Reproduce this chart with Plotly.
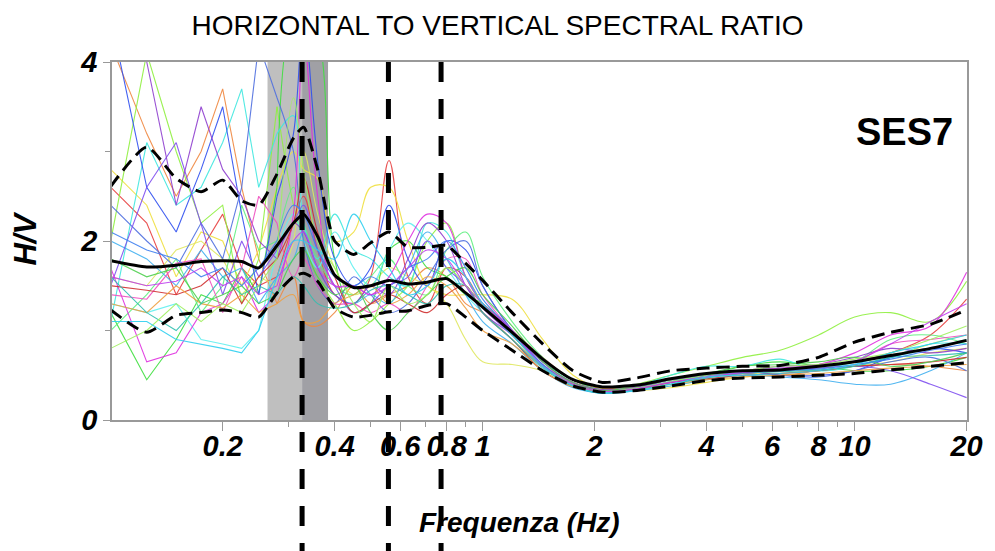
import math
import plotly.graph_objects as go

# ---------------- data ----------------
freq = [0.10, 0.125, 0.15, 0.175, 0.20, 0.225, 0.25, 0.28, 0.31,
        0.33, 0.36, 0.40,
        0.45, 0.50, 0.56, 0.63, 0.71, 0.80, 0.90,
        1.0, 1.2, 1.45, 1.75, 2.1,
        2.6, 3.2, 4.0, 5.0, 6.3, 8.0, 10.0, 12.5, 16.0, 20.0]

hv01 = [2.6, 2.2, 1.4, 1.9, 2.3, 1.7, 1.5, 1.6, 2.2, 2.5, 1.9, 1.4, 1.3, 1.6, 2.9, 1.6, 1.3, 1.7, 1.6, 1.3, 1.0, 0.7, 0.45, 0.35, 0.38, 0.45, 0.5, 0.55, 0.55, 0.6, 0.65, 0.75, 0.95, 1.35]
hv02 = [4.2, 3.2, 2.5, 3.0, 3.7, 2.6, 1.8, 1.3, 1.6, 1.1, 1.05, 1.2, 1.5, 1.3, 1.4, 1.5, 1.7, 1.6, 1.3, 1.2, 0.9, 0.6, 0.42, 0.35, 0.37, 0.42, 0.48, 0.52, 0.5, 0.55, 0.6, 0.62, 0.6, 0.55]
hv03 = [2.8, 2.4, 1.6, 2.1, 2.0, 1.5, 1.9, 2.6, 3.0, 2.8, 2.7, 2.0, 2.1, 2.6, 2.6, 2.0, 1.5, 1.4, 1.4, 1.4, 1.35, 0.9, 0.5, 0.35, 0.33, 0.36, 0.42, 0.48, 0.52, 0.55, 0.6, 0.7, 0.85, 0.95]
hv04 = [1.6, 1.5, 1.9, 2.0, 1.8, 1.4, 1.6, 1.5, 2.0, 3.0, 2.3, 1.7, 1.4, 1.5, 1.7, 1.6, 1.5, 1.3, 0.9, 0.65, 0.62, 0.55, 0.4, 0.33, 0.35, 0.38, 0.45, 0.5, 0.55, 0.55, 0.6, 0.65, 0.75, 0.8]
hv05 = [2.0, 4.1, 3.0, 2.2, 2.4, 1.3, 1.8, 3.5, 2.4, 2.0, 1.6, 1.3, 1.0, 1.1, 1.3, 1.5, 2.0, 2.2, 1.6, 1.3, 1.0, 0.6, 0.4, 0.32, 0.4, 0.5, 0.6, 0.7, 0.78, 0.95, 1.15, 1.2, 1.1, 1.55]
hv06 = [1.2, 0.45, 0.9, 1.4, 1.3, 1.7, 1.4, 2.6, 4.5, 4.5, 4.3, 1.8, 1.2, 1.3, 1.9, 2.0, 1.7, 1.6, 1.4, 1.3, 1.0, 0.65, 0.45, 0.33, 0.35, 0.42, 0.5, 0.6, 0.65, 0.6, 0.55, 0.55, 0.6, 0.7]
hv07 = [1.0, 1.4, 1.8, 1.2, 1.5, 2.4, 1.9, 2.0, 2.6, 2.2, 1.8, 1.5, 1.4, 1.6, 1.8, 1.5, 1.4, 1.9, 2.1, 1.6, 1.1, 0.7, 0.45, 0.34, 0.38, 0.45, 0.5, 0.52, 0.55, 0.58, 0.65, 0.9, 0.95, 0.85]
hv08 = [1.1, 3.1, 2.4, 2.6, 3.1, 3.7, 2.6, 3.2, 3.4, 2.2, 1.8, 2.3, 1.9, 1.8, 1.6, 1.5, 2.2, 2.1, 1.6, 1.3, 0.95, 0.6, 0.38, 0.3, 0.38, 0.5, 0.6, 0.6, 0.68, 0.55, 0.6, 0.7, 0.85, 0.85]
hv09 = [1.3, 1.2, 1.3, 0.9, 0.85, 0.8, 1.0, 1.9, 2.3, 2.0, 1.7, 2.1, 1.7, 1.5, 1.9, 2.2, 2.0, 1.7, 1.4, 1.2, 0.9, 0.55, 0.38, 0.3, 0.35, 0.42, 0.5, 0.55, 0.58, 0.6, 0.62, 0.7, 0.8, 0.9]
hv10 = [2.0, 1.8, 1.5, 1.9, 1.6, 1.7, 1.3, 1.6, 1.8, 2.1, 1.7, 1.4, 1.3, 1.4, 1.3, 1.7, 2.1, 1.8, 1.4, 1.1, 0.85, 0.55, 0.36, 0.3, 0.33, 0.38, 0.45, 0.5, 0.48, 0.45, 0.4, 0.4, 0.55, 0.75]
hv11 = [4.5, 2.6, 2.1, 2.8, 3.5, 2.3, 1.4, 2.5, 3.2, 4.5, 2.9, 1.8, 1.5, 1.7, 2.4, 1.8, 1.5, 2.0, 1.9, 1.5, 1.0, 0.65, 0.42, 0.33, 0.37, 0.45, 0.5, 0.55, 0.5, 0.5, 0.55, 0.7, 0.8, 0.75]
hv12 = [2.4, 2.0, 1.7, 2.2, 1.8, 2.6, 4.2, 3.6, 3.0, 2.0, 1.5, 1.3, 1.6, 1.4, 1.2, 1.3, 1.6, 1.9, 2.0, 1.5, 1.0, 0.6, 0.4, 0.3, 0.36, 0.45, 0.52, 0.55, 0.5, 0.48, 0.55, 0.65, 0.7, 0.55]
hv13 = [1.5, 2.6, 3.1, 2.2, 1.4, 2.0, 1.6, 1.9, 2.2, 2.4, 1.9, 1.5, 1.2, 1.3, 1.5, 1.6, 2.0, 1.7, 1.5, 1.2, 0.95, 0.6, 0.4, 0.32, 0.36, 0.42, 0.48, 0.52, 0.55, 0.58, 0.6, 0.55, 0.4, 0.25]
hv14 = [4.5, 4.0, 2.4, 3.5, 2.8, 2.5, 2.0, 1.8, 2.2, 2.1, 1.7, 1.4, 1.3, 1.5, 1.4, 1.8, 2.2, 2.0, 1.5, 1.25, 0.95, 0.6, 0.42, 0.34, 0.37, 0.45, 0.5, 0.55, 0.6, 0.62, 0.7, 0.8, 0.75, 0.8]
hv15 = [1.7, 0.65, 0.75, 1.2, 1.3, 1.6, 1.2, 1.4, 2.3, 4.3, 2.5, 1.5, 1.5, 1.4, 1.6, 2.0, 2.3, 2.2, 1.6, 1.3, 1.0, 0.62, 0.42, 0.33, 0.38, 0.45, 0.5, 0.55, 0.58, 0.62, 0.75, 0.95, 1.05, 1.65]
hv16 = [1.4, 1.35, 1.75, 1.8, 1.2, 1.7, 2.5, 2.2, 1.6, 1.8, 1.5, 1.3, 1.3, 1.2, 1.3, 1.2, 1.5, 1.8, 1.8, 1.4, 1.0, 0.65, 0.4, 0.33, 0.36, 0.42, 0.48, 0.52, 0.55, 0.6, 0.65, 0.85, 0.9, 0.95]
hv17 = [1.5, 1.45, 1.4, 1.5, 1.7, 1.3, 1.6, 1.8, 2.2, 2.7, 2.1, 1.6, 1.2, 1.3, 1.4, 1.3, 1.2, 1.4, 1.5, 1.2, 0.9, 0.55, 0.38, 0.32, 0.35, 0.42, 0.46, 0.5, 0.52, 0.55, 0.6, 0.62, 0.65, 0.7]
hv18 = [1.3, 1.2, 1.5, 1.3, 1.25, 1.4, 1.2, 1.3, 1.4, 1.1, 1.1, 1.3, 1.4, 1.5, 1.3, 1.4, 1.6, 1.5, 1.25, 1.0, 0.85, 0.55, 0.37, 0.32, 0.35, 0.4, 0.45, 0.48, 0.5, 0.52, 0.55, 0.58, 0.6, 0.62]
hv19 = [1.8, 1.6, 1.7, 1.3, 1.4, 1.5, 1.3, 1.4, 1.8, 1.9, 1.6, 1.4, 1.5, 1.2, 1.0, 1.2, 1.4, 1.6, 1.7, 1.4, 1.05, 0.65, 0.42, 0.33, 0.38, 0.45, 0.52, 0.6, 0.62, 0.65, 0.7, 0.6, 0.65, 0.75]
hv20 = [1.6, 1.2, 1.0, 1.3, 1.6, 1.4, 1.5, 1.4, 1.6, 1.5, 1.3, 1.25, 1.3, 1.45, 1.5, 1.4, 1.3, 1.5, 1.5, 1.2, 0.9, 0.58, 0.38, 0.3, 0.34, 0.4, 0.47, 0.52, 0.54, 0.56, 0.6, 0.7, 0.72, 0.75]
hv21 = [2.1, 1.9, 1.8, 1.6, 1.7, 1.5, 1.7, 2.0, 2.4, 2.3, 1.9, 1.6, 1.5, 1.6, 1.5, 1.7, 1.8, 2.0, 1.7, 1.35, 1.0, 0.62, 0.4, 0.32, 0.36, 0.43, 0.5, 0.53, 0.55, 0.57, 0.62, 0.68, 0.78, 0.85]
hv22 = [0.8, 1.0, 1.3, 1.1, 1.3, 1.2, 1.5, 1.8, 3.6, 2.8, 2.0, 1.7, 1.3, 1.1, 1.5, 1.3, 1.4, 1.7, 1.5, 1.3, 0.95, 0.6, 0.4, 0.32, 0.36, 0.43, 0.5, 0.55, 0.6, 0.62, 0.68, 0.75, 0.9, 1.05]
hv23 = [1.6, 1.5, 1.55, 1.7, 1.5, 1.6, 1.4, 1.5, 2.0, 2.1, 1.7, 1.5, 1.5, 1.4, 1.5, 1.7, 1.9, 1.8, 1.5, 1.3, 1.0, 0.6, 0.4, 0.32, 0.35, 0.42, 0.48, 0.53, 0.56, 0.6, 0.66, 0.85, 1.1, 1.3]
hv24 = [1.1, 1.1, 0.9, 0.85, 0.8, 0.75, 1.0, 1.6, 2.0, 2.0, 1.9, 1.8, 2.3, 2.0, 1.7, 1.4, 1.5, 1.8, 1.6, 1.3, 0.95, 0.6, 0.38, 0.3, 0.33, 0.4, 0.48, 0.5, 0.52, 0.55, 0.62, 0.75, 0.85, 0.95]

mean_hv = [1.78, 1.71, 1.73, 1.77, 1.78, 1.77, 1.70, 1.95, 2.20, 2.30, 2.05, 1.62, 1.48, 1.50, 1.56, 1.52, 1.54, 1.58, 1.42, 1.26, 0.98, 0.68, 0.45, 0.37, 0.39, 0.46, 0.52, 0.55, 0.56, 0.60, 0.65, 0.72, 0.80, 0.89]
upper_hv = [2.61, 3.05, 2.70, 2.55, 2.68, 2.45, 2.40, 2.75, 3.15, 3.27, 2.80, 2.00, 1.85, 1.98, 2.10, 1.93, 1.93, 1.95, 1.75, 1.56, 1.20, 0.85, 0.55, 0.42, 0.47, 0.55, 0.58, 0.60, 0.61, 0.70, 0.87, 0.98, 1.07, 1.23]
lower_hv = [1.23, 0.98, 1.17, 1.20, 1.23, 1.20, 1.15, 1.42, 1.60, 1.64, 1.55, 1.25, 1.15, 1.17, 1.21, 1.22, 1.28, 1.30, 1.15, 1.00, 0.78, 0.55, 0.38, 0.31, 0.33, 0.38, 0.44, 0.47, 0.48, 0.50, 0.52, 0.56, 0.60, 0.64]

peak_freqs = [0.327, 0.558, 0.773]
band_light = [0.264, 0.327]
band_dark = [0.327, 0.384]

x_tickvals = [0.2, 0.4, 0.6, 0.8, 1, 2, 4, 6, 8, 10, 20]
x_ticktext = ["0.2", "0.4", "0.6", "0.8", "1", "2", "4", "6", "8", "10", "20"]
x_minor = [0.3, 0.5, 0.7, 0.9, 3, 5, 7, 9]
y_tickvals = [0, 2, 4]
y_minor = [1, 3]

curves = [hv01, hv02, hv03, hv04, hv05, hv06, hv07, hv08, hv09, hv10, hv11, hv12,
          hv13, hv14, hv15, hv16, hv17, hv18, hv19, hv20, hv21, hv22, hv23, hv24]
colors = ["#e84040", "#f08840", "#f0e040", "#e0e860", "#90f040", "#40e040",
          "#60f080", "#40e8e0", "#60f0f0", "#40b0f0", "#3050f0", "#5070e0",
          "#8050f0", "#9040d0", "#e030e0", "#f050c0", "#d03030", "#f0a040",
          "#50d050", "#30c0b0", "#4080f0", "#a0f060", "#c040f0", "#30d0f0"]

SPLIT = 7  # low-frequency part drawn with straight segments, the rest smoothed

# ---------------- figure ----------------
fig = go.Figure()
for c, col in zip(curves, colors):
    fig.add_trace(go.Scatter(x=freq[:SPLIT + 1], y=c[:SPLIT + 1], mode="lines",
                             line=dict(color=col, width=1.1), opacity=0.9,
                             showlegend=False, hoverinfo="skip"))
    fig.add_trace(go.Scatter(x=freq[SPLIT:], y=c[SPLIT:], mode="lines",
                             line=dict(color=col, width=1.1, shape="spline", smoothing=1.0),
                             opacity=0.9, showlegend=False, hoverinfo="skip"))

for arr in (upper_hv, lower_hv):
    fig.add_trace(go.Scatter(x=freq, y=arr, mode="lines",
                             line=dict(color="black", width=3, dash="13px,7px",
                                       shape="spline", smoothing=0.6),
                             showlegend=False))
fig.add_trace(go.Scatter(x=freq, y=mean_hv, mode="lines",
                         line=dict(color="black", width=3, shape="spline", smoothing=0.6),
                         showlegend=False))

shapes = [
    dict(type="rect", xref="x", yref="paper", x0=band_light[0], x1=band_light[1],
         y0=0, y1=1, fillcolor="#bfbfbf", line=dict(width=0), layer="below"),
    dict(type="rect", xref="x", yref="paper", x0=band_dark[0], x1=band_dark[1],
         y0=0, y1=1, fillcolor="#a0a0a5", line=dict(width=0), layer="below"),
]
for f in peak_freqs:
    shapes.append(dict(type="line", xref="x", yref="paper", x0=f, x1=f,
                       y0=1, y1=-0.37, line=dict(color="black", width=5, dash="20px,17px"),
                       layer="above"))

tickfont = dict(family="Liberation Sans, Arial, sans-serif", size=29, color="black",
                weight="bold", style="italic")

fig.update_layout(
    width=995, height=551,
    margin=dict(l=112, r=22, t=62, b=131),
    paper_bgcolor="white", plot_bgcolor="white",
    title=dict(text="HORIZONTAL TO VERTICAL SPECTRAL RATIO", x=0.5, xanchor="center",
               y=1 - 25 / 551, yanchor="middle",
               font=dict(family="Liberation Sans, Arial, sans-serif", size=28, color="black")),
    shapes=shapes,
    xaxis=dict(type="log", range=[-0.9965, math.log10(20.05)],
               tickmode="array", tickvals=x_tickvals, ticktext=x_ticktext,
               tickangle=0, ticks="outside", ticklen=9, tickwidth=1.2, tickcolor="#999",
               ticklabelstandoff=-10,
               minor=dict(tickvals=x_minor, ticks="outside", ticklen=5, tickcolor="#999", tickwidth=1.2),
               showline=True, linecolor="#999", linewidth=1.5, mirror=True,
               showgrid=False, zeroline=False, tickfont=tickfont),
    yaxis=dict(range=[0, 4], tickmode="array", tickvals=y_tickvals,
               ticks="outside", ticklen=7, tickwidth=1.2, tickcolor="#999",
               minor=dict(tickvals=y_minor, ticks="outside", ticklen=5, tickcolor="#999", tickwidth=1.2),
               showline=True, linecolor="#999", linewidth=1.5, mirror=True,
               showgrid=False, zeroline=False, tickfont=tickfont),
    annotations=[
        dict(text="H/V", xref="paper", yref="paper", x=-112 / 861 + 25 / 861, y=(420 - 239) / 358,
             xanchor="center", yanchor="middle", textangle=-90, showarrow=False,
             font=dict(family="Liberation Sans, Arial, sans-serif", size=31, color="black",
                       weight="bold", style="italic")),
        dict(text="Frequenza (Hz)", xref="paper", yref="paper", x=(522 - 112) / 861,
             y=-(522 - 420) / 358, xanchor="center", yanchor="middle", showarrow=False,
             font=dict(family="Liberation Sans, Arial, sans-serif", size=28, color="black",
                       weight="bold", style="italic")),
        dict(text="SES7", xref="paper", yref="paper", x=(910 - 112) / 861,
             y=(420 - 132) / 358, xanchor="center", yanchor="middle", showarrow=False,
             font=dict(family="Liberation Sans, Arial, sans-serif", size=38, color="black",
                       weight="bold")),
    ],
)

fig.write_html("out.html")
